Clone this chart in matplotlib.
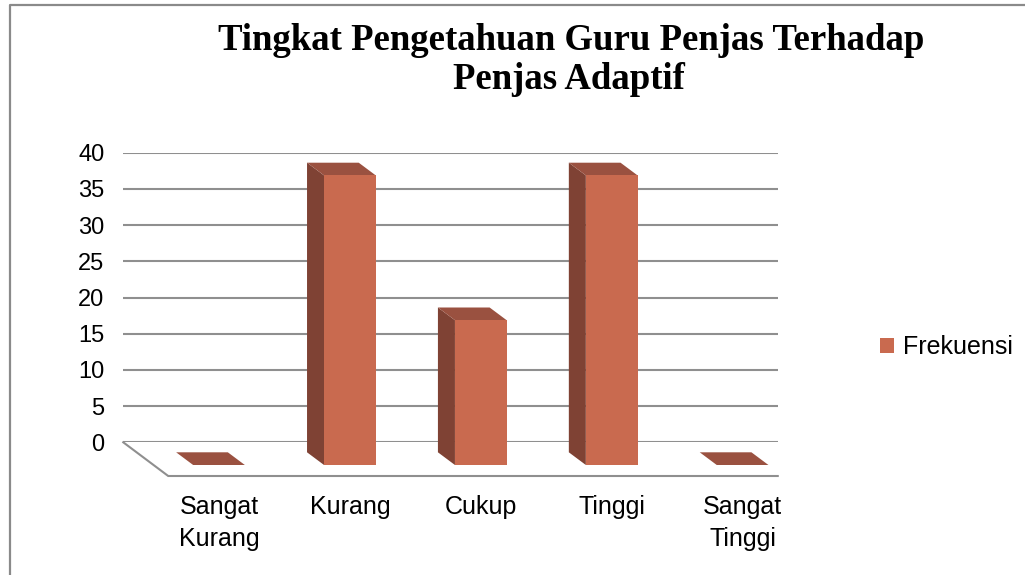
import matplotlib
matplotlib.use("Agg")
import matplotlib.pyplot as plt
from matplotlib.patches import Polygon, Patch
from matplotlib.lines import Line2D

# ---- data ----
categories = ["Sangat\nKurang", "Kurang", "Cukup", "Tinggi", "Sangat\nTinggi"]
frekuensi = [0, 40, 20, 40, 0]
series_name = "Frekuensi"
yticks = [0, 5, 10, 15, 20, 25, 30, 35, 40]
title_lines = ["Tingkat Pengetahuan Guru Penjas Terhadap", "Penjas Adaptif"]

# ---- style / geometry ----
W, H, DPI = 1025, 575, 100
C_FRONT = "#C96A4F"
C_SIDE = "#7F4234"
C_TOP = "#9A5140"
C_GRID = "#8F8F8F"
BAR_HALF = 0.1975
BAR_DEPTH = (-0.13, 1.754)      # front -> back of bar (x in category units, y in value units)
WALL_SHIFT = (-0.2315, 3.135)   # bar front plane -> back wall
FLOOR_FRONT = (0.112, -1.519)   # bar front plane -> floor front edge

fig = plt.figure(figsize=(W / DPI, H / DPI), dpi=DPI)
fig.patch.set_facecolor("white")

ax = fig.add_axes([0, 0, 1, 1])
ax.set_xlim(-219 / 130.9, (W - 219) / 130.9)
ax.set_ylim(-(H - 465) / 7.24, 465 / 7.24)
ax.axis("off")
ax.patch.set_alpha(0)
ax.set_zorder(2)

# back wall axes (gridlines + y tick labels)
x_left = -0.5 + WALL_SHIFT[0]
x_right = len(categories) - 0.5 + WALL_SHIFT[0]
fig.canvas.draw()
to_fig = ax.transData + fig.transFigure.inverted()
(fx0, fy0) = to_fig.transform((x_left, 0 + WALL_SHIFT[1]))
(fx1, fy1) = to_fig.transform((x_right, max(yticks) + WALL_SHIFT[1]))
axw = fig.add_axes([fx0, fy0, fx1 - fx0, fy1 - fy0])
axw.set_zorder(1)
axw.set_facecolor("none")
axw.set_xlim(0, 1)
axw.set_ylim(0, max(yticks))
axw.set_yticks(yticks)
axw.set_xticks([])
for s in axw.spines.values():
    s.set_visible(False)
axw.tick_params(axis="y", length=0, pad=13.5, labelsize=17)
for lab in axw.get_yticklabels():
    lab.set_fontfamily("Liberation Sans")
axw.yaxis.grid(True, color=C_GRID, lw=1.5)
axw.set_axisbelow(True)

# floor edges
fl_back_left = (x_left, WALL_SHIFT[1])
fl_front_left = (-0.5 + FLOOR_FRONT[0], FLOOR_FRONT[1])
fl_front_right = (x_right, FLOOR_FRONT[1])
ax.add_line(Line2D([fl_back_left[0], fl_front_left[0], fl_front_right[0]],
                   [fl_back_left[1], fl_front_left[1], fl_front_right[1]],
                   color=C_GRID, lw=1.5, zorder=1, solid_joinstyle="miter"))

# bars
dx, dy = BAR_DEPTH
for i, v in enumerate(frekuensi):
    l, r = i - BAR_HALF, i + BAR_HALF
    # side face (left)
    ax.add_patch(Polygon([(l, 0), (l + dx, dy), (l + dx, v + dy), (l, v)],
                         closed=True, facecolor=C_SIDE, edgecolor="none", zorder=3))
    # top face
    ax.add_patch(Polygon([(l, v), (r, v), (r + dx, v + dy), (l + dx, v + dy)],
                         closed=True, facecolor=C_TOP, edgecolor="none", zorder=4))
    # front face
    if v > 0:
        ax.add_patch(Polygon([(l, 0), (r, 0), (r, v), (l, v)],
                             closed=True, facecolor=C_FRONT, edgecolor="none", zorder=5))

# category labels
for i, c in enumerate(categories):
    ax.text(i, -4.14, c, ha="center", va="top", fontsize=18,
            family="Liberation Sans", linespacing=1.4, multialignment="center")

# legend
ax.legend(handles=[Patch(facecolor=C_FRONT, edgecolor="none", label=series_name)],
          loc="center left", bbox_to_anchor=(880 / W, 1 - 347 / H),
          bbox_transform=fig.transFigure, frameon=False,
          prop={"family": "Liberation Sans", "size": 18},
          handlelength=0.56, handleheight=0.56, handletextpad=0.36,
          borderpad=0, borderaxespad=0)

# title
fig.text(571 / W, 1 - 49.5 / H, title_lines[0], ha="center", va="baseline",
         fontsize=26.5, fontweight="bold", family="Liberation Serif")
fig.text(569 / W, 1 - 89.5 / H, title_lines[1], ha="center", va="baseline",
         fontsize=26.5, fontweight="bold", family="Liberation Serif")

# chart frame
fig.add_artist(Line2D([10 / W, 10 / W, 1], [0, 1 - 5 / H, 1 - 5 / H],
                      transform=fig.transFigure, color="#8A8A8A", lw=1.6))

fig.savefig("out.png", dpi=DPI)
